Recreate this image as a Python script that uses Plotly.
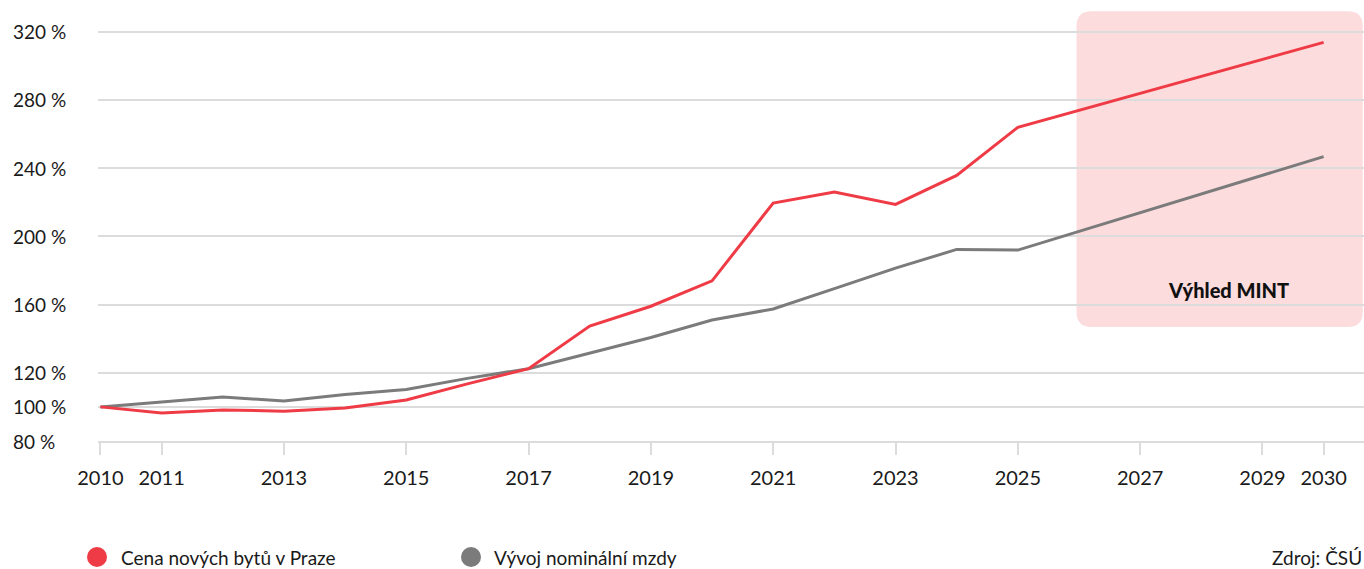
import plotly.graph_objects as go

# ---- data ----
years_red = [2010, 2011, 2012, 2013, 2014, 2015, 2016, 2017, 2018, 2019, 2020, 2021, 2022, 2023, 2024, 2025, 2030]
price_new_flats = [100, 96.4, 98.2, 97.5, 99.3, 104.0, 113.5, 122.4, 147.4, 159.0, 173.9, 219.5, 226.0, 218.7, 235.7, 263.9, 313.7]

years_gray = [2010, 2011, 2012, 2013, 2014, 2015, 2016, 2017, 2018, 2019, 2020, 2021, 2022, 2023, 2024, 2025, 2030]
nominal_wage = [100, 103.1, 105.8, 103.4, 107.2, 110.2, 116.7, 122.4, 131.6, 140.7, 150.9, 157.4, 169.3, 181.3, 192.3, 191.9, 246.7]

series_names = ["Cena nových bytů v Praze", "Vývoj nominální mzdy"]
series_colors = ["#ef3b45", "#7b7b7b"]

x_tickvals = [2010, 2011, 2013, 2015, 2017, 2019, 2021, 2023, 2025, 2027, 2029, 2030]
x_ticktext = [str(v) for v in x_tickvals]
y_tickvals = [80, 100, 120, 160, 200, 240, 280, 320]
y_ticktext = ["80 %", "100 %", "120 %", "160 %", "200 %", "240 %", "280 %", "320 %"]

outlook_label = "Výhled MINT"
source_label = "Zdroj: ČSÚ"
outlook_start, outlook_end = 2025.96, 2030.64
outlook_low, outlook_high = 146.8, 331.9

# ---- layout constants ----
W, H = 1364, 569
ML, MR, MT, MB = 98, 0, 6, 128
PW, PH = W - ML - MR, H - MT - MB
FONT = "Lato"
TXT = "#1a1a1a"
GRID = "#dcdcdc"

def px_to_paper_x(px):
    return (px - ML) / PW

def px_to_paper_y(py):
    return (H - MB - py) / PH

fig = go.Figure()
fig.add_trace(go.Scatter(x=years_gray, y=nominal_wage, mode="lines", name=series_names[1],
                         line=dict(color=series_colors[1], width=3), showlegend=False))
fig.add_trace(go.Scatter(x=years_red, y=price_new_flats, mode="lines", name=series_names[0],
                         line=dict(color=series_colors[0], width=3), showlegend=False))

# outlook box with rounded corners (data coords)
rx, ry = 15 / (PW / (2030.66 - 2009.96)), 15 / (PH / (335 - 80))
x0, x1, y0, y1 = outlook_start, outlook_end, outlook_low, outlook_high
path = (f"M {x0+rx},{y0} L {x1-rx},{y0} Q {x1},{y0} {x1},{y0+ry} "
        f"L {x1},{y1-ry} Q {x1},{y1} {x1-rx},{y1} "
        f"L {x0+rx},{y1} Q {x0},{y1} {x0},{y1-ry} "
        f"L {x0},{y0+ry} Q {x0},{y0} {x0+rx},{y0} Z")
fig.add_shape(type="path", path=path, xref="x", yref="y", layer="below",
              fillcolor="#fddcde", line=dict(width=0))

annotations = []
annotations.append(dict(x=2028.44, y=168.8, xref="x", yref="y", text=outlook_label,
                        showarrow=False, font=dict(family=FONT, size=20, color="#111111", weight=900),
                        xanchor="center", yanchor="middle"))
for v, t in zip(y_tickvals, y_ticktext):
    annotations.append(dict(x=px_to_paper_x(11), y=v, xref="paper", yref="y", text=t,
                            showarrow=False, xanchor="left", yanchor="middle",
                            font=dict(family=FONT, size=19, color=TXT)))

# legend (manual, large circles)
legend_circle_px = [97, 471]
legend_text_px = [119, 492]
legend_y = px_to_paper_y(557)
for name, col, cx, tx in zip(series_names, series_colors, legend_circle_px, legend_text_px):
    fig.add_shape(type="circle", xref="paper", yref="paper", xsizemode="pixel", ysizemode="pixel",
                  xanchor=px_to_paper_x(cx), yanchor=legend_y, x0=-10, x1=10, y0=-10, y1=10,
                  fillcolor=col, line=dict(width=0))
    annotations.append(dict(x=px_to_paper_x(tx), y=legend_y, xref="paper", yref="paper", text=name,
                            showarrow=False, xanchor="left", yanchor="middle",
                            font=dict(family=FONT, size=19, color=TXT)))

annotations.append(dict(x=1.0, y=legend_y, xref="paper", yref="paper", text=source_label,
                        showarrow=False, xanchor="right", yanchor="middle",
                        font=dict(family=FONT, size=19, color=TXT)))

fig.update_layout(
    width=W, height=H,
    margin=dict(l=ML, r=MR, t=MT, b=MB),
    paper_bgcolor="white", plot_bgcolor="white",
    font=dict(family=FONT, size=19, color=TXT),
    showlegend=False,
    annotations=annotations,
    xaxis=dict(range=[2009.96, 2030.66], tickvals=x_tickvals, ticktext=x_ticktext,
               showgrid=False, zeroline=False, showline=True, linecolor=GRID, linewidth=2,
               ticks="outside", ticklen=12, tickwidth=2, tickcolor=GRID,
               ticklabelstandoff=6, tickfont=dict(family=FONT, size=20, color=TXT)),
    yaxis=dict(range=[80, 335], tickvals=y_tickvals, showticklabels=False,
               showgrid=True, gridcolor=GRID, gridwidth=2,
               zeroline=False, showline=False, ticks=""),
)

fig.write_html("out.html", config={"displayModeBar": False},
               post_script="document.body.style.margin='0';document.body.style.overflow='hidden';")
